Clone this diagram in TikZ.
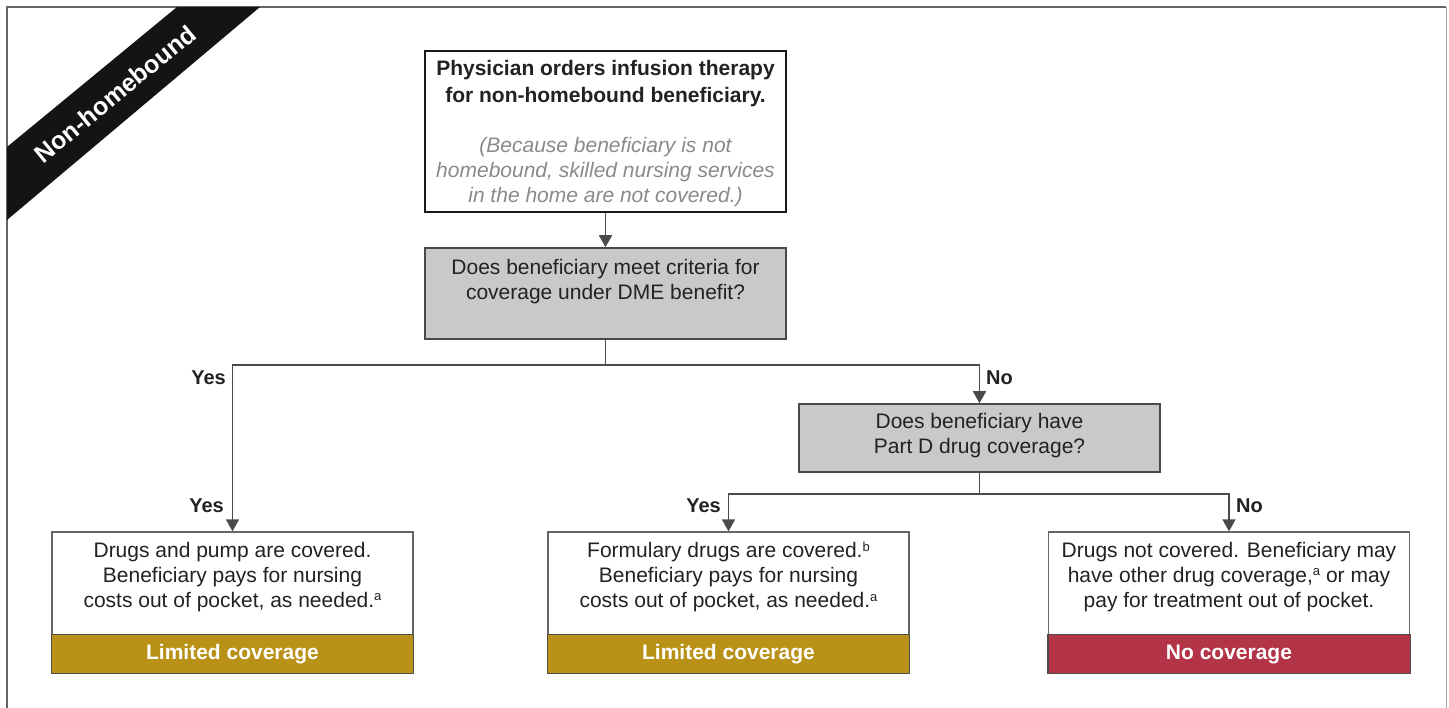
\documentclass[tikz,border=0pt]{standalone}
\usepackage{fontspec}
\setmainfont{Liberation Sans}
\usetikzlibrary{arrows.meta,calc}
\definecolor{goldband}{HTML}{BA9117}
\definecolor{redband}{HTML}{B33447}
\definecolor{qgray}{HTML}{C9C9C9}
\definecolor{itgray}{HTML}{8A8A8A}
\definecolor{txt}{HTML}{222222}
\definecolor{linec}{HTML}{4A4A4A}
\newcommand{\supmark}[1]{\raisebox{0.62ex}{\fontsize{13}{13}\selectfont #1}}
\begin{document}
\begin{tikzpicture}[x=1pt,y=-1pt,
  base/.style={font=\fontsize{21}{25}\selectfont, text=txt},
  startbox/.style={draw=black!90, line width=2.5pt, fill=white, minimum width=361pt, minimum height=161pt, inner sep=0pt},
  qbox/.style={draw=linec, line width=1.5pt, fill=qgray, inner sep=0pt},
  resbox/.style={draw=black!60, line width=1.3pt, fill=white, minimum width=361pt, minimum height=141pt, inner sep=0pt},
  boxtext/.style={base, align=center, inner sep=0pt},
  bandtext/.style={font=\bfseries\fontsize{21}{25}\selectfont, text=white, inner sep=0pt},
  lbl/.style={font=\bfseries\fontsize{20}{24}\selectfont, text=txt, inner sep=0pt},
  conn/.style={draw=linec, line width=1.6pt},
  arr/.style={conn, -{Triangle[width=13pt,length=12pt]}},
]
\useasboundingbox (0,0) rectangle (1449,708);
% frame
\draw[draw=black!35, line width=1pt] (1446,7) -- (1446,708);
\draw[draw=black!60, line width=1.5pt] (7,708) -- (7,7) -- (1446,7);
% banner
\fill[black!92] (177,7) -- (260,7) -- (7,220) -- (7,147) -- cycle;
\node[rotate=39.5, text=white, font=\bfseries\fontsize{25}{25}\selectfont, inner sep=0pt] (banner) at (115,94) {Non-homebound};

% start box
\node[startbox] (start) at (605.5,131.5) {};
\node[boxtext] (starttext) at (605.5,133.5) {\textbf{Physician orders infusion therapy}\\[2pt]
\textbf{for non-homebound beneficiary.}\\[25pt]
\textcolor{itgray}{\itshape (Because beneficiary is not}\\
\textcolor{itgray}{\itshape homebound, skilled nursing services}\\
\textcolor{itgray}{\itshape in the home are not covered.)}};

% DME question
\node[qbox, minimum width=361pt, minimum height=91pt] (dme) at (605.5,293.5) {};
\node[boxtext] (dmetext) at (605.5,282) {Does beneficiary meet criteria for\\coverage under DME benefit?};

% Part D question
\node[qbox, minimum width=361pt, minimum height=68pt] (pd) at (979.5,438) {};
\node[boxtext] (pdtext) at (979.5,436) {Does beneficiary have\\Part D drug coverage?};

% result boxes
\node[resbox] (b1) at (232.5,602.5) {};
\node[resbox] (b2) at (728.5,602.5) {};
\node[resbox] (b3) at (1229,602.5) {};
\draw[draw=black!70, line width=1.3pt, fill=goldband] (b1.south west) rectangle ($(b1.south east)+(0,-39)$);
\draw[draw=black!70, line width=1.3pt, fill=goldband] (b2.south west) rectangle ($(b2.south east)+(0,-39)$);
\draw[draw=black!70, line width=1.3pt, fill=redband] (b3.south west) rectangle ($(b3.south east)+(0,-39)$);
\node[boxtext] (b1text) at (232.5,577) {Drugs and pump are covered.\\Beneficiary pays for nursing\\costs out of pocket, as needed.\supmark{a}};
\node[boxtext] (b2text) at (728.5,577) {Formulary drugs are covered.\supmark{b}\\Beneficiary pays for nursing\\costs out of pocket, as needed.\supmark{a}};
\node[boxtext] (b3text) at (1229,577) {Drugs not covered. Beneficiary may\\have other drug coverage,\supmark{a} or may\\pay for treatment out of pocket.};
\node[bandtext] (b1band) at ($(b1.south)+(0,-19.5)$) {Limited coverage};
\node[bandtext] (b2band) at ($(b2.south)+(0,-19.5)$) {Limited coverage};
\node[bandtext] (b3band) at ($(b3.south)+(0,-19.5)$) {No coverage};

% connectors
\coordinate (j1) at (605.5,365);
\coordinate (j2) at (979.5,494);
\draw[arr] (start.south) -- (dme.north);
\draw[conn] (dme.south) -- (j1);
\draw[arr] (j1) -| (b1.north);
\draw[arr] (j1) -| (pd.north);
\draw[conn] (pd.south) -- (j2);
\draw[arr] (j2) -| (b2.north);
\draw[arr] (j2) -| (b3.north);

% labels
\node[lbl, anchor=east] (y1) at (226,378) {Yes};
\node[lbl, anchor=east] (y2) at (224,506) {Yes};
\node[lbl, anchor=west] (n1) at (986,378) {No};
\node[lbl, anchor=east] (y3) at (721,506) {Yes};
\node[lbl, anchor=west] (n2) at (1236,506) {No};
\end{tikzpicture}
\end{document}
